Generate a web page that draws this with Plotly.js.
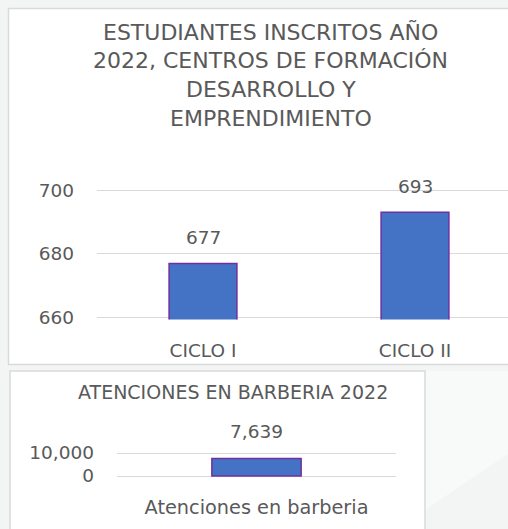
<!DOCTYPE html>
<html>
<head>
<meta charset="utf-8">
<script src="https://cdn.plot.ly/plotly-3.0.1.min.js"></script>
<style>
html, body { margin: 0; padding: 0; overflow: hidden; width: 508px; height: 529px; background: #f3f5f5; }
#chart { width: 530px; height: 529px; }
</style>
</head>
<body>
<div id="chart"></div>
<script>
// ---- data ----
const cicloCategories = ['CICLO I', 'CICLO II'];
const cicloValues = [677, 693];
const cicloTitleLines = ['ESTUDIANTES INSCRITOS AÑO', '2022, CENTROS DE FORMACIÓN', 'DESARROLLO Y', 'EMPRENDIMIENTO'];
const cicloTicks = [660, 680, 700];

const barberCategories = ['Atenciones en barberia'];
const barberValues = [7639];
const barberTitle = 'ATENCIONES EN BARBERIA 2022';
const barberTicks = [0, 10000];

// ---- layout helpers ----
const W = 530, H = 529;
const px = v => v / W;
const py = v => 1 - v / H;
const FONT = '"DejaVu Sans", Verdana, sans-serif';
const TXT = '#595959';
const fmt = v => v.toLocaleString('en-US');

const traces = [
  {
    type: 'bar', x: cicloCategories, y: cicloValues, xaxis: 'x', yaxis: 'y',
    width: 0.32,
    marker: { color: '#4472C4', line: { color: '#7030A0', width: 1.5 } },
    hoverinfo: 'x+y'
  },
  {
    type: 'bar', x: barberCategories, y: barberValues, xaxis: 'x2', yaxis: 'y2',
    width: 0.32,
    marker: { color: '#4472C4', line: { color: '#7030A0', width: 1.5 } },
    hoverinfo: 'x+y'
  }
];

const annotations = [];
cicloTitleLines.forEach((t, i) => {
  annotations.push({
    text: t, xref: 'paper', yref: 'paper', x: px(270.5), y: py(32 + i * 28.7),
    xanchor: 'center', yanchor: 'middle', showarrow: false,
    font: { family: FONT, size: 22, color: TXT }
  });
});
annotations.push({
  text: barberTitle, xref: 'paper', yref: 'paper', x: px(232.5), y: py(392),
  xanchor: 'center', yanchor: 'middle', showarrow: false,
  font: { family: FONT, size: 19, color: TXT }
});
cicloCategories.forEach((c, i) => {
  annotations.push({
    text: fmt(cicloValues[i]), xref: 'x', yref: 'y', x: c, y: cicloValues[i],
    xanchor: 'center', yanchor: 'middle', yshift: 26, showarrow: false,
    font: { family: FONT, size: 18.5, color: TXT }
  });
});
barberCategories.forEach((c, i) => {
  annotations.push({
    text: fmt(barberValues[i]), xref: 'x2', yref: 'y2', x: c, y: barberValues[i],
    xanchor: 'center', yanchor: 'middle', yshift: 26.5, showarrow: false,
    font: { family: FONT, size: 18.5, color: TXT }
  });
});

const shapes = [
  { type: 'path', layer: 'below', xref: 'paper', yref: 'paper',
    path: 'M ' + px(425) + ' ' + py(371) + ' L ' + px(540) + ' ' + py(371) +
          ' L ' + px(540) + ' ' + py(432) + ' L ' + px(425) + ' ' + py(510) + ' Z',
    fillcolor: '#f8f9f9', line: { width: 0 } },
  { type: 'rect', layer: 'below', xref: 'paper', yref: 'paper',
    x0: px(8.5), x1: px(545), y0: py(8.5), y1: py(364.5),
    fillcolor: '#ffffff', line: { color: '#d9d9d9', width: 1.5 } },
  { type: 'rect', layer: 'below', xref: 'paper', yref: 'paper',
    x0: px(10), x1: px(425), y0: py(371), y1: py(545),
    fillcolor: '#ffffff', line: { color: '#d9d9d9', width: 1.5 } }
];

const axFont = { family: FONT, size: 18.5, color: TXT };

const layout = {
  width: W, height: H,
  margin: { l: 0, r: 0, t: 0, b: 0 },
  paper_bgcolor: '#f3f5f5',
  plot_bgcolor: 'rgba(0,0,0,0)',
  showlegend: false,
  font: { family: FONT, color: TXT },
  xaxis: {
    domain: [px(97), px(521)], anchor: 'y', type: 'category',
    showline: false, ticks: '', tickfont: axFont, ticklabelstandoff: 18,
    showgrid: false, zeroline: false, fixedrange: true
  },
  yaxis: {
    domain: [py(319.6), py(188.1)], anchor: 'x',
    range: [659.4, 700.6], tickvals: cicloTicks, ticks: '',
    tickfont: axFont, ticklabelstandoff: 22,
    showgrid: true, gridcolor: '#d9d9d9', gridwidth: 1,
    zeroline: false, showline: false, fixedrange: true
  },
  xaxis2: {
    domain: [px(117), px(396)], anchor: 'y2', type: 'category',
    showline: false, ticks: '', tickfont: { family: FONT, size: 19.3, color: TXT },
    ticklabelstandoff: 16,
    showgrid: false, zeroline: false, fixedrange: true
  },
  yaxis2: {
    domain: [py(478.07), py(450.93)], anchor: 'x2',
    range: [-900, 10900], tickvals: barberTicks, tickformat: ',', ticks: '',
    tickfont: axFont, ticklabelstandoff: 22,
    showgrid: true, gridcolor: '#d9d9d9', gridwidth: 1,
    zeroline: true, zerolinecolor: '#d9d9d9', zerolinewidth: 1,
    showline: false, fixedrange: true
  },
  annotations: annotations,
  shapes: shapes
};

Plotly.newPlot('chart', traces, layout, { displayModeBar: false, staticPlot: true });
</script>
</body>
</html>
